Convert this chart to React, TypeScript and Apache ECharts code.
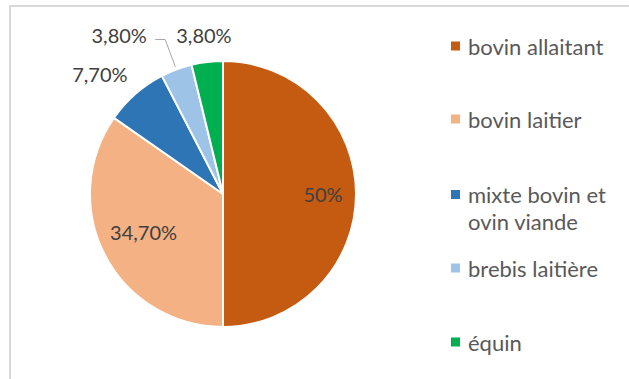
import React, { useEffect, useRef } from "react";
import * as echarts from "echarts";

const CATEGORIES = [
  "bovin allaitant",
  "bovin laitier",
  "mixte bovin et ovin viande",
  "brebis laitière",
  "équin",
];
const LEGEND_TEXTS = [
  "bovin allaitant",
  "bovin laitier",
  "mixte bovin et\novin viande",
  "brebis laitière",
  "équin",
];
const VALUES = [50, 34.7, 7.7, 3.8, 3.8];
const COLORS = ["#C55A11", "#F4B183", "#2E75B6", "#9DC3E6", "#00B050"];

// layout / style constants
const CX = 223;
const CY = 194;
const R = 133;
// [angle tweak in degrees, distance from centre in px] for each data label
const LABEL_POLAR: [number, number][] = [
  [0, 100],
  [2, 88],
  [-4.5, 172],
  [-12.6, 190],
  [0, 160],
];
const LEGEND_CENTERS = [46, 119, 194.5, 268, 342];
const LINE_H = 27;

// square marker at top-left, with an invisible speck that widens the icon box
const ICON_ONE = "path://M0,0h9v9h-9z M12,8.99h0.01v0.01h-0.01z";
const ICON_TWO = "path://M0,0h9v9h-9z M12,35.99h0.01v0.01h-0.01z";

function fmtPct(v: number): string {
  if (Number.isInteger(v)) return v + "%";
  return v.toFixed(2).replace(".", ",") + "%";
}

export default function App() {
  const ref = useRef<HTMLDivElement>(null);
  useEffect(() => {
    if (!ref.current) return;
    const chart = echarts.init(ref.current, undefined, { renderer: "svg" });
    const total = VALUES.reduce((a, b) => a + b, 0);
    const mids: number[] = [];
    let cum = 0;
    VALUES.forEach((v) => {
      mids.push(((cum + v / 2) / total) * 360);
      cum += v;
    });
    const polar = (deg: number, r: number): [number, number] => {
      const t = (deg * Math.PI) / 180;
      return [CX + r * Math.sin(t), CY - r * Math.cos(t)];
    };

    const legends = CATEGORIES.map((name, i) => {
      const twoLine = LEGEND_TEXTS[i].includes("\n");
      return {
        data: [name],
        orient: "vertical",
        left: 451,
        top: LEGEND_CENTERS[i] - LINE_H / 2,
        padding: 0,
        itemWidth: 12,
        itemHeight: twoLine ? 36 : 9,
        icon: twoLine ? ICON_TWO : ICON_ONE,
        itemStyle: { borderWidth: 0 },
        formatter: () => LEGEND_TEXTS[i],
        textStyle: {
          fontFamily: "Lato",
          fontSize: 22,
          lineHeight: LINE_H,
          color: "#595959",
        },
      };
    });

    chart.setOption({
      animation: false,
      backgroundColor: "#ffffff",
      color: COLORS,
      graphic: [
        {
          type: "rect",
          shape: { x: 10, y: 6, width: 700, height: 420 },
          style: { fill: "none", stroke: "#D9D9D9", lineWidth: 2 },
          silent: true,
          z: -1,
        },
      ],
      legend: legends,
      series: [
        {
          type: "pie",
          center: [CX, CY],
          radius: R,
          startAngle: 90,
          clockwise: true,
          avoidLabelOverlap: false,
          itemStyle: { borderColor: "#ffffff", borderWidth: 2 },
          label: {
            show: true,
            position: "outside",
            fontFamily: "Lato",
            fontSize: 20,
            color: "#404040",
            formatter: (p: any) => fmtPct(p.value),
          },
          labelLine: {
            show: false,
            lineStyle: { color: "#A6A6A6", width: 1 },
          },
          emphasis: { scale: false },
          labelLayout: (params: any) => {
            const i = params.dataIndex;
            const [dA, r] = LABEL_POLAR[i];
            const [x, y] = polar(mids[i] + dA, r);
            const res: any = { x, y, align: "center", verticalAlign: "middle" };
            if (i === 3) {
              const p0 = polar(mids[i], R + 3);
              const p1 = polar(mids[i], 165);
              res.labelLinePoints = [p0, p1, [p1[0] - 10, p1[1]]];
            }
            return res;
          },
          data: CATEGORIES.map((name, i) => ({
            name,
            value: VALUES[i],
            labelLine: { show: i === 3 },
          })),
        },
      ],
    });
    return () => chart.dispose();
  }, []);
  return (
    <div
      ref={ref}
      style={{ position: "absolute", left: 0, top: 0, width: 629, height: 379 }}
    />
  );
}
